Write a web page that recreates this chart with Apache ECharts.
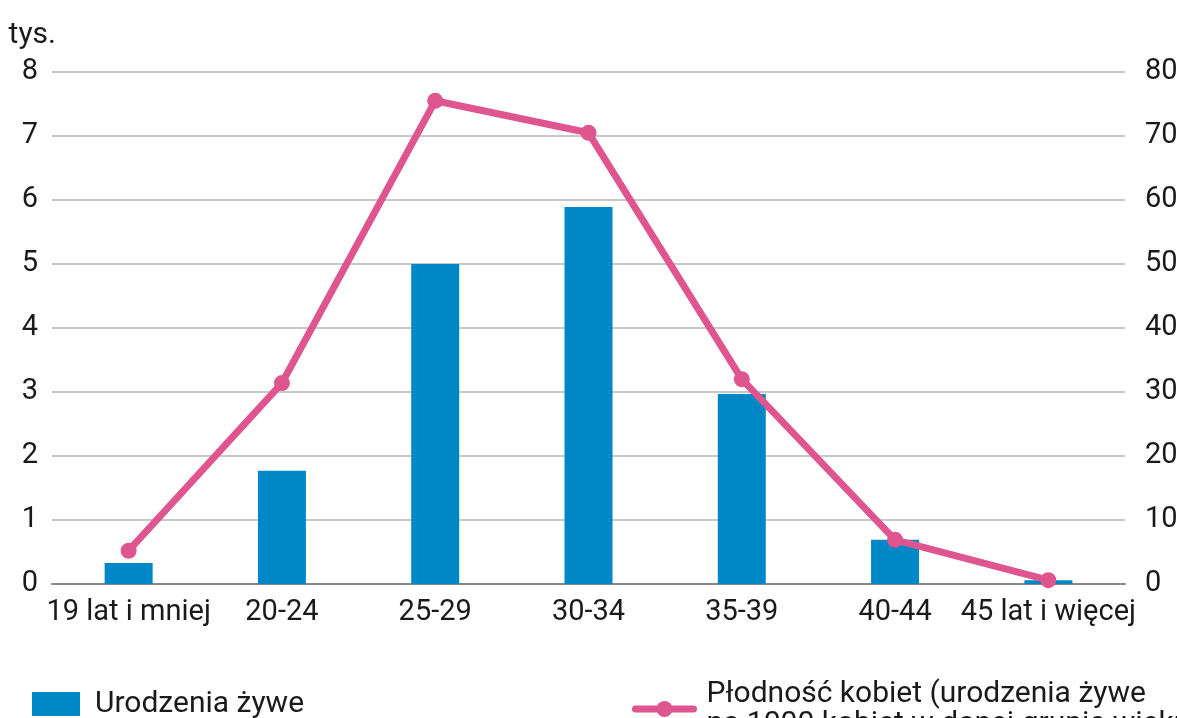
<!DOCTYPE html>
<html>
<head>
<meta charset="utf-8">
<script src="https://cdn.jsdelivr.net/npm/echarts@6/dist/echarts.min.js"></script>
<style>
  html, body { margin: 0; padding: 0; background: #fff; }
  #chart { width: 1177px; height: 718px; }
</style>
</head>
<body>
<div id="chart"></div>
<script>
// kategorie wieku matki
const categories = ['19 lat i mniej', '20-24', '25-29', '30-34', '35-39', '40-44', '45 lat i więcej']
// urodzenia żywe, tys.
const births = [0.33, 1.77, 5.0, 5.89, 2.97, 0.69, 0.06]
// płodność kobiet (na 1000 kobiet)
const fertility = [5.2, 31.4, 75.5, 70.5, 32.0, 6.9, 0.6]

const FONT = '"Liberation Sans Narrow", "Roboto", sans-serif'
const TXT = '#1a1a1a'
const LINE_NAME = 'Płodność kobiet (urodzenia żywe\nna 1000 kobiet w danej grupie wieku)'

let chart = echarts.init(document.getElementById('chart'))
let option = {
  animation: false,
  textStyle: {fontFamily: FONT, color: TXT},
  grid: {left: 52, right: 52, top: 72, bottom: 134, outerBoundsMode: 'none'},
  legend: [
    {
      data: [{name: 'Urodzenia żywe', icon: 'rect'}],
      left: 27, top: 684,
      itemWidth: 48, itemHeight: 24,
      textStyle: {fontFamily: FONT, fontSize: 30, color: TXT, padding: [0, 0, 0, 10]}
    },
    {
      data: [LINE_NAME],
      left: 627, top: 674,
      itemWidth: 58, itemHeight: 20,
      lineStyle: {width: 7, cap: 'round'},
      textStyle: {fontFamily: FONT, fontSize: 30, color: TXT, lineHeight: 30, padding: [0, 0, 0, 8]}
    }
  ],
  xAxis: {
    type: 'category',
    data: categories,
    axisTick: {show: false},
    axisLine: {lineStyle: {color: '#888', width: 2}},
    axisLabel: {fontFamily: FONT, fontSize: 29, color: TXT, margin: 14, interval: 0}
  },
  yAxis: [
    {
      type: 'value', min: 0, max: 8, interval: 1,
      name: 'tys.', nameLocation: 'end', nameGap: 22,
      nameTextStyle: {fontFamily: FONT, fontSize: 30, color: TXT, align: 'right', padding: [0, -4, 0, 0]},
      axisLabel: {fontFamily: FONT, fontSize: 29, color: TXT, margin: 14},
      splitLine: {lineStyle: {color: '#c8c8c8', width: 2}}
    },
    {
      type: 'value', min: 0, max: 80, interval: 10,
      axisLabel: {fontFamily: FONT, fontSize: 29, color: TXT, margin: 20, align: 'left'},
      splitLine: {show: false}
    }
  ],
  series: [
    {
      name: 'Urodzenia żywe',
      type: 'bar',
      data: births,
      barWidth: 48,
      itemStyle: {color: '#0088c6'}
    },
    {
      name: LINE_NAME,
      type: 'line',
      yAxisIndex: 1,
      data: fertility,
      symbol: 'circle',
      symbolSize: 16,
      lineStyle: {color: '#de5590', width: 7},
      itemStyle: {color: '#de5590'}
    }
  ]
}
chart.setOption(option)
</script>
</body>
</html>
